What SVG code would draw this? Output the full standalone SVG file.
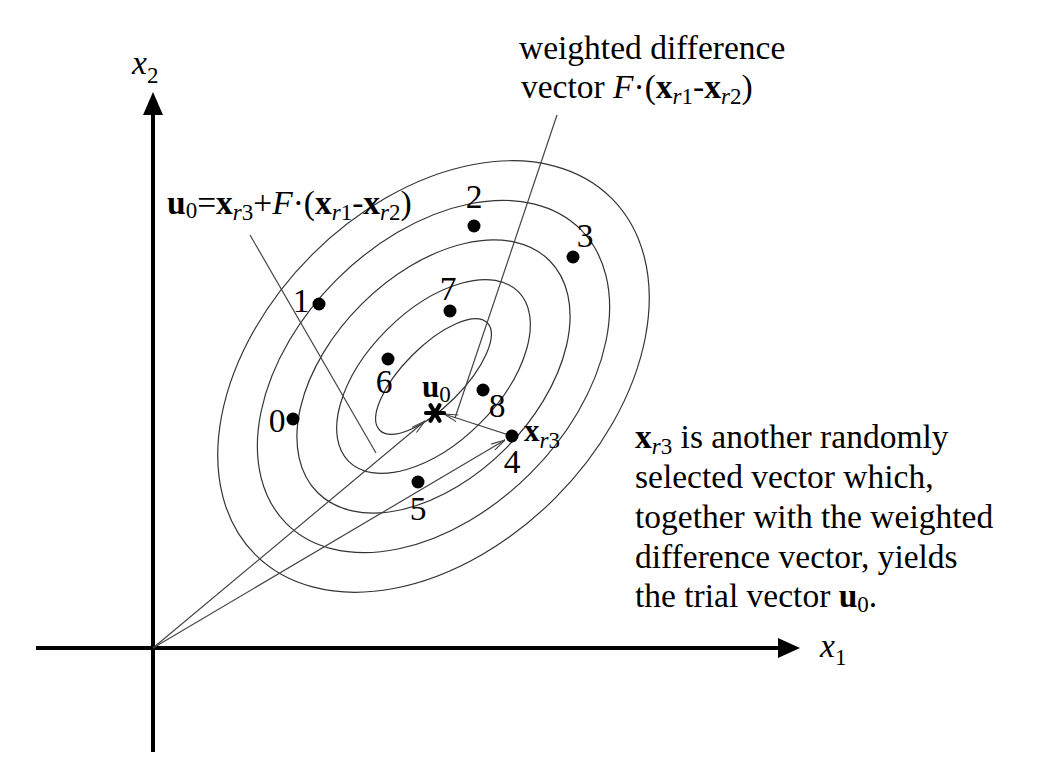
<svg xmlns="http://www.w3.org/2000/svg" width="1064" height="771" viewBox="0 0 1064 771">
<style>
.t{font-family:"Liberation Serif","Times New Roman",serif;font-size:33.5px;fill:#000}
.s{font-size:23px}
.b{font-weight:bold}
.i{font-style:italic}
.ell{fill:none;stroke:#333;stroke-width:1.2}
.ln{fill:none;stroke:#444;stroke-width:1.2}
.ax{stroke:#000;stroke-width:4;fill:none}
.dot{fill:#000}
.star{fill:none;stroke:#000;stroke-width:4.2;stroke-linecap:round}
</style>
<defs>
<marker id="arr" viewBox="0 0 14 8" refX="14" refY="4" markerWidth="14" markerHeight="8" markerUnits="userSpaceOnUse" orient="auto">
<path d="M0,0.5 L14,4 L0,7.5" fill="none" stroke="#444" stroke-width="1.1"/>
</marker>
</defs>
<rect width="1064" height="771" fill="#fff"/>
<g id="axes">
<line class="ax" x1="36" y1="648" x2="782" y2="648"/>
<polygon points="778,638 800,648 778,658" fill="#000"/>
<line class="ax" x1="153" y1="752" x2="153" y2="112"/>
<polygon points="143,115 153,92 163,115" fill="#000"/>
<text class="t i" x="132" y="74">x<tspan class="s" dy="9" font-style="normal">2</tspan></text>
<text class="t i" x="820" y="657">x<tspan class="s" dy="8" font-style="normal">1</tspan></text>
</g>
<g id="contours" transform="translate(433.5 376.5) rotate(-45)">
<ellipse class="ell" cx="0" cy="0" rx="76" ry="30"/>
<ellipse class="ell" cx="0" cy="0" rx="120" ry="66"/>
<ellipse class="ell" cx="0" cy="0" rx="164" ry="102"/>
<ellipse class="ell" cx="0" cy="0" rx="208" ry="137"/>
<ellipse class="ell" cx="0" cy="0" rx="252" ry="172"/>
</g>
<g id="connectors">
<line class="ln" x1="153" y1="648" x2="425" y2="421" marker-end="url(#arr)"/>
<line class="ln" x1="153" y1="648" x2="505" y2="440" marker-end="url(#arr)"/>
<line class="ln" x1="512" y1="436" x2="444" y2="414" marker-end="url(#arr)"/>
<line class="ln" x1="557" y1="115" x2="455" y2="418"/>
<line class="ln" x1="250" y1="235" x2="376" y2="453"/>
</g>
<g id="p0"><circle class="dot" cx="293" cy="419" r="6.5"/><text class="t" x="277" y="432" text-anchor="middle">0</text></g>
<g id="p1"><circle class="dot" cx="319" cy="304" r="6.5"/><text class="t" x="301" y="312" text-anchor="middle">1</text></g>
<g id="p2"><circle class="dot" cx="474" cy="226" r="6.5"/><text class="t" x="474" y="208" text-anchor="middle">2</text></g>
<g id="p3"><circle class="dot" cx="573" cy="257" r="6.5"/><text class="t" x="585" y="247" text-anchor="middle">3</text></g>
<g id="p4"><circle class="dot" cx="512" cy="436" r="6.5"/><text class="t" x="512" y="473" text-anchor="middle">4</text>
<text class="t" x="524" y="441"><tspan class="b" font-size="31">x</tspan><tspan class="s i" dy="7">r</tspan><tspan class="s">3</tspan></text></g>
<g id="p5"><circle class="dot" cx="418" cy="482" r="6.5"/><text class="t" x="418" y="520" text-anchor="middle">5</text></g>
<g id="p6"><circle class="dot" cx="388" cy="359" r="6.5"/><text class="t" x="384" y="393" text-anchor="middle">6</text></g>
<g id="p7"><circle class="dot" cx="450" cy="311" r="6.5"/><text class="t" x="448" y="300" text-anchor="middle">7</text></g>
<g id="p8"><circle class="dot" cx="483" cy="390" r="6.5"/><text class="t" x="497" y="417" text-anchor="middle">8</text></g>
<g id="u0">
<path class="star" d="M426,413 L444,413 M430.5,405.2 L439.5,420.8 M439.5,405.2 L430.5,420.8"/>
<text class="t" x="422" y="397"><tspan class="b" font-size="31">u</tspan><tspan class="s" dy="5">0</tspan></text>
</g>
<g id="label-u0">
<text class="t" x="167" y="214"><tspan class="b">u</tspan><tspan class="s" dy="4">0</tspan><tspan dy="-4">=</tspan><tspan class="b">x</tspan><tspan class="s i" dy="6">r</tspan><tspan class="s">3</tspan><tspan dy="-6">+</tspan><tspan class="i">F</tspan><tspan>·(</tspan><tspan class="b">x</tspan><tspan class="s i" dy="6">r</tspan><tspan class="s">1</tspan><tspan dy="-6">-</tspan><tspan class="b">x</tspan><tspan class="s i" dy="6">r</tspan><tspan class="s">2</tspan><tspan dy="-6">)</tspan></text>
</g>
<g id="label-wdv">
<text class="t" x="519" y="59">weighted difference</text>
<text class="t" x="521" y="98">vector <tspan class="i">F</tspan>·(<tspan class="b">x</tspan><tspan class="s i" dy="6">r</tspan><tspan class="s">1</tspan><tspan dy="-6">-</tspan><tspan class="b">x</tspan><tspan class="s i" dy="6">r</tspan><tspan class="s">2</tspan><tspan dy="-6">)</tspan></text>
</g>
<g id="note">
<text class="t" x="635" y="448"><tspan class="b">x</tspan><tspan class="s i" dy="6">r</tspan><tspan class="s">3</tspan><tspan dy="-6"> is another randomly</tspan></text>
<text class="t" x="635" y="488">selected vector which,</text>
<text class="t" x="635" y="528">together with the weighted</text>
<text class="t" x="635" y="568">difference vector, yields</text>
<text class="t" x="635" y="607">the trial vector <tspan class="b">u</tspan><tspan class="s" dy="5">0</tspan><tspan dy="-5">.</tspan></text>
</g>
</svg>
